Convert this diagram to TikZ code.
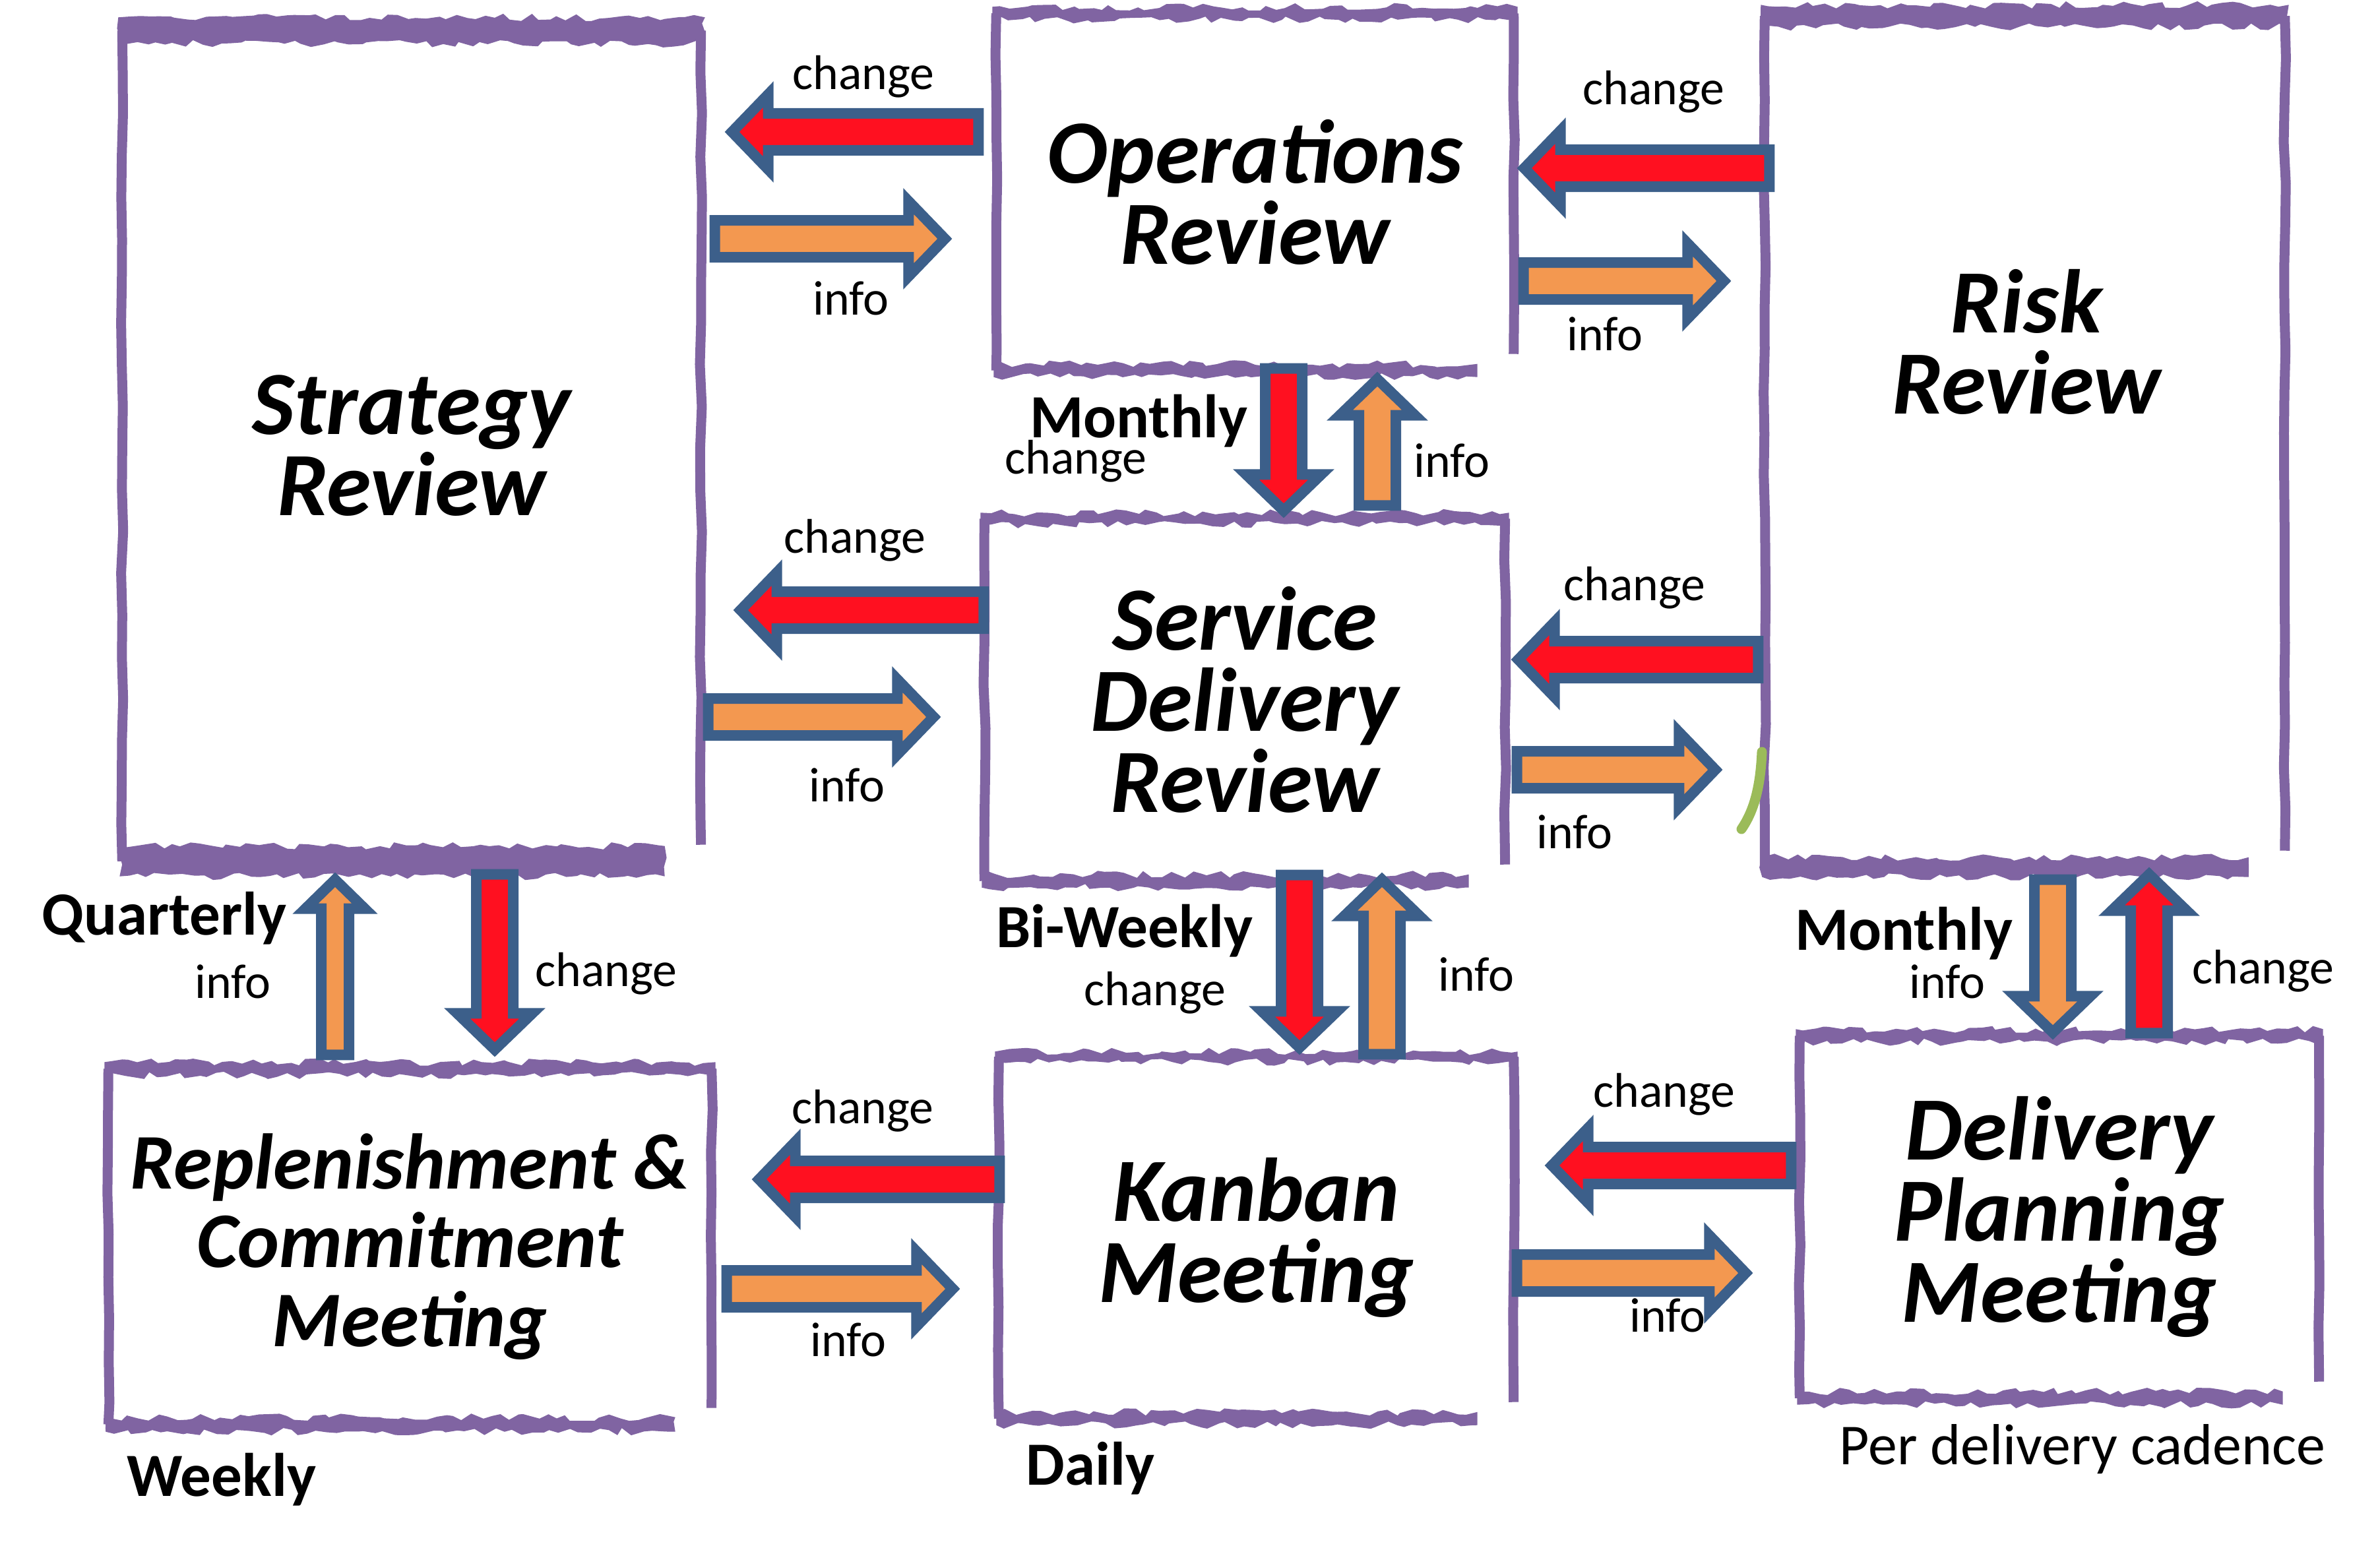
\documentclass[tikz,border=0pt]{standalone}
\usepackage{fontspec}
\setmainfont{Carlito}
\usetikzlibrary{calc,decorations.pathmorphing}
\definecolor{frameViolet}{RGB}{128,100,162}
\definecolor{arrowBlue}{RGB}{60,95,138}
\definecolor{changeRed}{RGB}{255,16,32}
\definecolor{infoOrange}{RGB}{243,152,80}
\definecolor{inkGreen}{RGB}{155,187,89}

% block arrow sizes (path, outline added on top)
\newcommand{\shaftw}{0.28cm}
\newcommand{\headw}{0.57cm}
\newcommand{\headl}{0.55cm}

% sketchy frame round a meeting node: name, top band, bottom band (half thickness)
\newcommand{\sketchframe}[3]{%
  \draw[frameside] (#1.north west) -- (#1.south west);
  \draw[frameside] (#1.north east) -- ($(#1.south east)+(0,0.25)$);
  \fill[frameband] ($(#1.north west)+(-0.06,#2)$) rectangle ($(#1.north east)+(0.06,-#2)$);
  \fill[frameband] ($(#1.south west)+(-0.04,#3)$) rectangle ($(#1.south east)+(-0.55,-#3)$);
}

\begin{document}
\begin{tikzpicture}[
  meeting/.style={rectangle, inner sep=0pt, align=center, font=\bfseries\itshape\fontsize{39}{35}\selectfont},
  frameside/.style={draw=frameViolet, line width=0.15cm, decorate, decoration={random steps, segment length=18pt, amplitude=0.5pt}},
  frameband/.style={fill=frameViolet, decorate, decoration={random steps, segment length=4pt, amplitude=1.6pt}},
  tag/.style={font=\fontsize{21}{25}\selectfont, anchor=base},
  cadence/.style={font=\bfseries\fontsize{26.5}{30}\selectfont, anchor=base},
  blockarrow/.style={draw=arrowBlue, line width=0.16cm, line join=miter, miter limit=10,
    to path={let \p1=(\tikztostart), \p2=(\tikztotarget), \n1={atan2(\y2-\y1,\x2-\x1)} in
      ($(\p1)+(\n1+90:\shaftw)$) -- ($(\p2)+(\n1+180:\headl)+(\n1+90:\shaftw)$)
      -- ($(\p2)+(\n1+180:\headl)+(\n1+90:\headw)$) -- (\p2)
      -- ($(\p2)+(\n1+180:\headl)+(\n1-90:\headw)$) -- ($(\p2)+(\n1+180:\headl)+(\n1-90:\shaftw)$)
      -- ($(\p1)+(\n1-90:\shaftw)$) -- cycle}},
  changearrow/.style={blockarrow, fill=changeRed},
  infoarrow/.style={blockarrow, fill=infoOrange},
  slim/.style={/utils/exec={\renewcommand{\shaftw}{0.21cm}\renewcommand{\headw}{0.45cm}\renewcommand{\headl}{0.44cm}}}
]
\pgfmathsetseed{3}
\useasboundingbox (0,0) rectangle (36.08,-23.50);

% ------------------------------------------------------------------
% meetings
% ------------------------------------------------------------------
\node[meeting, minimum width=8.76cm, minimum height=12.58cm] (str) at (6.24,-6.76) {Strategy\\Review};
\node[meeting, minimum width=7.83cm, minimum height=5.40cm] (ops) at (19.025,-2.91) {Operations\\Review};
\node[meeting, minimum width=7.87cm, minimum height=12.89cm] (risk) at (30.695,-6.695) {};
\node[meeting] (risktitle) at (30.72,-5.18) {Risk\\Review};
\node[meeting, minimum width=7.88cm, minimum height=5.48cm] (sdr) at (18.87,-10.61) {Service\\Delivery\\Review};
\node[meeting, minimum width=9.13cm, minimum height=5.38cm, font=\bfseries\itshape\fontsize{34}{34}\selectfont] (rcm) at (6.215,-18.90) {Replenishment~\&\\Commitment\\Meeting};
\node[meeting, minimum width=7.79cm, minimum height=5.47cm] (kan) at (19.045,-18.765) {Kanban\\Meeting};
\node[meeting, minimum width=7.86cm, minimum height=5.48cm] (dpm) at (31.22,-18.45) {Delivery\\Planning\\Meeting};

\sketchframe{str}{0.20}{0.23}
\sketchframe{ops}{0.10}{0.10}
\sketchframe{risk}{0.17}{0.15}
\sketchframe{sdr}{0.09}{0.10}
\sketchframe{rcm}{0.10}{0.11}
\sketchframe{kan}{0.08}{0.10}
\sketchframe{dpm}{0.10}{0.10}

\draw[inkGreen, line width=0.15cm, line cap=round] (26.71,-11.40) .. controls (26.69,-11.85) and (26.62,-12.25) .. (26.40,-12.57);

% ------------------------------------------------------------------
% change / info arrows
% ------------------------------------------------------------------
\draw[changearrow] ($(ops.west)+(-0.27,0.91)$) to ($(str.east)+(0.47,4.76)$);
\draw[infoarrow] ($(str.east)+(0.21,3.14)$) to ($(ops.west)+(-0.78,-0.71)$);

\draw[changearrow] ($(risk.west)+(0.07,4.145)$) to ($(ops.east)+(0.16,0.36)$);
\draw[infoarrow] ($(ops.east)+(0.15,-1.35)$) to ($(risk.west)+(-0.62,2.435)$);

\draw[changearrow] ($(sdr.west)+(-0.01,1.36)$) to ($(str.east)+(0.60,-2.49)$);
\draw[infoarrow] ($(str.east)+(0.11,-4.11)$) to ($(sdr.west)+(-0.77,-0.26)$);

\draw[changearrow] ($(risk.west)+(-0.10,-3.305)$) to ($(sdr.east)+(0.20,0.61)$);
\draw[infoarrow] ($(sdr.east)+(0.18,-1.06)$) to ($(risk.west)+(-0.75,-4.975)$);

\draw[changearrow] ($(ops.south)+(0.435,0.03)$) to ($(sdr.north)+(0.59,0.12)$);
\draw[infoarrow] ($(sdr.north)+(2.01,0.20)$) to ($(ops.south)+(1.855,-0.13)$);

\draw[infoarrow, slim] ($(rcm.north)+(-1.135,0.21)$) to ($(str.south)+(-1.16,-0.28)$);
\draw[changearrow] ($(str.south)+(1.26,-0.20)$) to ($(rcm.north)+(1.285,0.29)$);

\draw[changearrow] ($(sdr.south)+(0.83,0.09)$) to ($(kan.north)+(0.655,0.14)$);
\draw[infoarrow] ($(kan.north)+(1.905,0.04)$) to ($(sdr.south)+(2.08,0.02)$);

\draw[infoarrow] ($(risk.south)+(0.425,-0.19)$) to ($(dpm.north)+(-0.10,0.05)$);
\draw[changearrow] ($(dpm.north)+(1.36,0.04)$) to ($(risk.south)+(1.885,-0.11)$);

\draw[changearrow] ($(kan.west)+(0.01,0.885)$) to ($(rcm.east)+(0.72,1.02)$);
\draw[infoarrow] ($(rcm.east)+(0.23,-0.64)$) to ($(kan.west)+(-0.70,-0.775)$);

\draw[changearrow] ($(dpm.west)+(-0.13,0.78)$) to ($(kan.east)+(0.58,1.095)$);
\draw[infoarrow] ($(kan.east)+(0.05,-0.535)$) to ($(dpm.west)+(-0.82,-0.85)$);

% ------------------------------------------------------------------
% labels
% ------------------------------------------------------------------
\node[tag] (chA) at (13.09,-1.36) {change};
\node[tag] (inA) at (12.90,-4.77) {info};
\node[tag] (chB) at (25.07,-1.59) {change};
\node[tag] (inB) at (24.33,-5.31) {info};
\node[tag] (chC) at (12.96,-8.38) {change};
\node[tag] (inC) at (12.84,-12.15) {info};
\node[tag] (chD) at (24.78,-9.10) {change};
\node[tag] (inD) at (23.87,-12.86) {info};

\node[cadence] (monthlyA) at (17.26,-6.63) {Monthly};
\node[tag] (chE) at (16.31,-7.18) {change};
\node[tag] (inE) at (22.01,-7.23) {info};

\node[cadence] (quarterly) at (2.49,-14.17) {Quarterly};
\node[tag] (inF) at (3.53,-15.13) {info};
\node[tag] (chF) at (9.19,-14.95) {change};

\node[cadence] (biweekly) at (17.05,-14.36) {Bi-Weekly};
\node[tag] (chG) at (17.51,-15.24) {change};
\node[tag] (inG) at (22.38,-15.02) {info};

\node[cadence] (monthlyB) at (28.86,-14.40) {Monthly};
\node[tag] (inH) at (29.52,-15.13) {info};
\node[tag] (chH) at (34.31,-14.91) {change};

\node[tag] (chI) at (13.08,-17.03) {change};
\node[tag] (inI) at (12.86,-20.56) {info};
\node[tag] (chJ) at (25.23,-16.78) {change};
\node[tag] (inJ) at (25.28,-20.19) {info};

\node[cadence] (weekly) at (3.36,-22.68) {Weekly};
\node[cadence] (daily) at (16.53,-22.51) {Daily};
\node[tag, font=\fontsize{25}{30}\selectfont] (perdelivery) at (31.57,-22.20) {Per delivery cadence};

\end{tikzpicture}
\end{document}
